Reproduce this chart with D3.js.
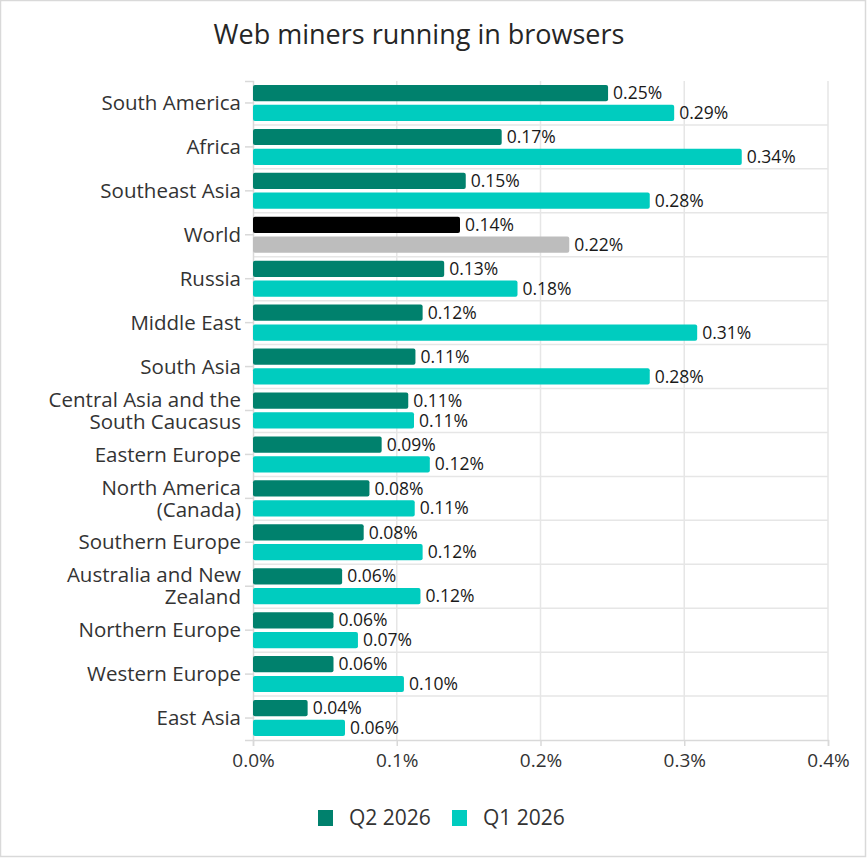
<!DOCTYPE html>
<html>
<head>
<meta charset="utf-8">
<script src="https://cdn.jsdelivr.net/npm/d3@7"></script>
<style>
  html, body { margin: 0; padding: 0; background: #fff; }
  svg { display: block; font-family: "Open Sans", Lato, sans-serif; }
</style>
</head>
<body>
<div id="chart"></div>
<script>
// regions, top to bottom
const regions = [
  'South America', 'Africa', 'Southeast Asia', 'World', 'Russia', 'Middle East',
  'South Asia', 'Central Asia and the|South Caucasus', 'Eastern Europe',
  'North America|(Canada)', 'Southern Europe', 'Australia and New|Zealand',
  'Northern Europe', 'Western Europe', 'East Asia'
];
// share of users, %
const q2_2026 = [0.247, 0.173, 0.148, 0.144, 0.133, 0.118, 0.113, 0.108, 0.0895, 0.081, 0.077, 0.062, 0.056, 0.056, 0.038];
const q1_2026 = [0.293, 0.340, 0.276, 0.220, 0.184, 0.309, 0.276, 0.112, 0.123, 0.1125, 0.118, 0.1165, 0.073, 0.105, 0.064];
const seriesNames = ['Q2 2026', 'Q1 2026'];
const xTicks = [0, 0.1, 0.2, 0.3, 0.4];

const width = 868;
const height = 859;
const margin = { top: 81, right: 40, bottom: 119, left: 253 };

const colors = { q2: '#00816d', q1: '#00ccbf' };
const worldColors = { q2: '#000000', q1: '#bdbdbd' };

const svg = d3.select('#chart')
  .append('svg')
  .attr('width', width)
  .attr('height', height);

// outer frame
svg.append('rect')
  .attr('x', 0.5).attr('y', 0.5)
  .attr('width', width - 3).attr('height', height - 3)
  .attr('fill', '#fff')
  .attr('stroke', '#d9d9d9')
  .attr('stroke-width', 1.5);

svg.append('text')
  .attr('x', 419)
  .attr('y', 44)
  .attr('text-anchor', 'middle')
  .attr('font-size', 27)
  .attr('fill', '#262626')
  .text('Web miners running in browsers');

const x = d3.scaleLinear()
  .domain([0, 0.4])
  .range([margin.left, width - 40]);

const y = d3.scaleBand()
  .domain(regions)
  .range([margin.top, height - margin.bottom]);

const inner = d3.scaleBand()
  .domain(['q2', 'q1'])
  .range([0, y.bandwidth()])
  .paddingInner(0.18)
  .paddingOuter(0.2);

// vertical grid
svg.append('g')
  .selectAll('line')
  .data(xTicks.slice(1))
  .join('line')
  .attr('x1', d => x(d)).attr('x2', d => x(d))
  .attr('y1', margin.top).attr('y2', height - margin.bottom)
  .attr('stroke', '#e6e6e6')
  .attr('stroke-width', 1.5);

// separators between regions
svg.append('g')
  .selectAll('line')
  .data(regions.slice(1))
  .join('line')
  .attr('x1', x(0)).attr('x2', x(0.4))
  .attr('y1', d => y(d)).attr('y2', d => y(d))
  .attr('stroke', '#e6e6e6')
  .attr('stroke-width', 1.5);

// bottom axis
const xAxis = svg.append('g')
  .attr('transform', `translate(0,${height - margin.bottom})`)
  .call(d3.axisBottom(x).tickValues(xTicks).tickSize(6).tickPadding(8)
    .tickFormat(d => d.toFixed(1) + '%'));
xAxis.select('.domain').attr('stroke', '#d9d9d9').attr('stroke-width', 1.5);
xAxis.selectAll('.tick line').attr('stroke', '#d9d9d9').attr('stroke-width', 1.5);
xAxis.selectAll('.tick text')
  .attr('font-size', 19)
  .attr('font-family', '"Open Sans", sans-serif')
  .attr('fill', '#333');

// left axis
const yAxis = svg.append('g')
  .attr('transform', `translate(${margin.left},0)`)
  .call(d3.axisLeft(y).tickSize(8).tickFormat(''));
yAxis.select('.domain').attr('stroke', '#d9d9d9').attr('stroke-width', 1.5);
yAxis.selectAll('.tick line').attr('stroke', '#d9d9d9').attr('stroke-width', 1.5);

// region labels (some wrap to two lines)
svg.append('g')
  .selectAll('text')
  .data(regions)
  .join('text')
  .attr('x', margin.left - 12)
  .attr('y', d => y(d) + y.bandwidth() / 2)
  .attr('text-anchor', 'end')
  .attr('font-size', 20.5)
  .attr('fill', '#333')
  .each(function (d) {
    const lines = d.split('|');
    const t = d3.select(this);
    lines.forEach((line, i) => {
      t.append('tspan')
        .attr('x', margin.left - 12)
        .attr('dy', i === 0 ? (0.35 - (lines.length - 1) * 0.537) + 'em' : '1.074em')
        .text(line);
    });
  });

const rows = regions.map((r, i) => ({ region: r, q2: q2_2026[i], q1: q1_2026[i] }));

const groups = svg.append('g')
  .selectAll('g')
  .data(rows)
  .join('g')
  .attr('transform', d => `translate(0,${y(d.region)})`);

const bars = groups.selectAll('g')
  .data(d => ['q2', 'q1'].map(k => ({ key: k, value: d[k], world: d.region === 'World' })))
  .join('g');

bars.append('rect')
  .attr('x', x(0))
  .attr('y', d => inner(d.key))
  .attr('width', d => x(d.value) - x(0))
  .attr('height', inner.bandwidth())
  .attr('rx', 2)
  .attr('fill', d => d.world ? worldColors[d.key] : colors[d.key]);

bars.append('text')
  .attr('x', d => x(d.value) + 5)
  .attr('y', d => inner(d.key) + inner.bandwidth() / 2)
  .attr('dy', '0.35em')
  .attr('font-size', 17.5)
  .attr('fill', '#1a1a1a')
  .text(d => d.value.toFixed(2) + '%');

// legend
const legend = svg.append('g').attr('transform', 'translate(318,818)');
const legendItems = [
  { name: seriesNames[0], color: colors.q2, x: 0 },
  { name: seriesNames[1], color: colors.q1, x: 134 }
];
const li = legend.selectAll('g')
  .data(legendItems)
  .join('g')
  .attr('transform', d => `translate(${d.x},0)`);
li.append('rect')
  .attr('x', 0).attr('y', -8)
  .attr('width', 15).attr('height', 16)
  .attr('fill', d => d.color);
li.append('text')
  .attr('x', 31)
  .attr('y', 0)
  .attr('dy', '0.35em')
  .attr('font-size', 21)
  .attr('fill', '#333')
  .text(d => d.name);
</script>
</body>
</html>
